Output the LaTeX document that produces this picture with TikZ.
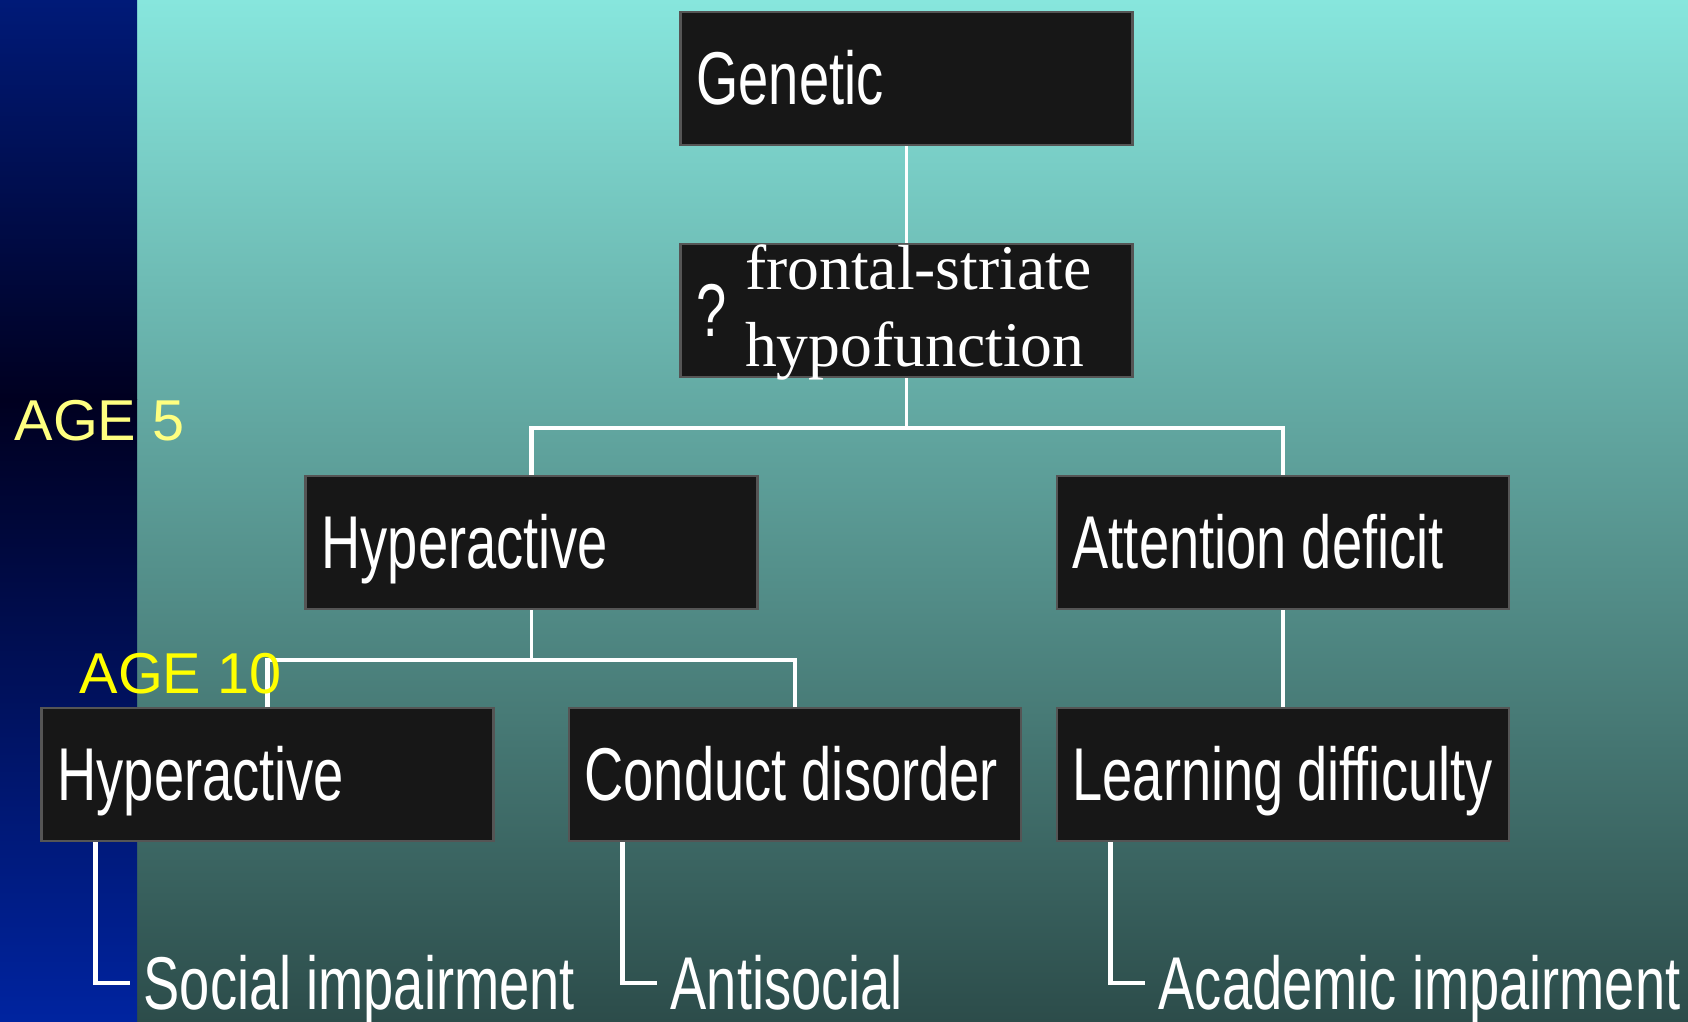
\documentclass[tikz,border=0pt]{standalone}
\usepackage{fontspec}
\usetikzlibrary{positioning,calc}
\usepackage{xcolor}

\newfontfamily\narrowsans[FakeStretch=0.725]{Liberation Sans}
\newfontfamily\agesans{Liberation Sans}
\newfontfamily\slideserif{Liberation Serif}

\definecolor{bgtop}{HTML}{87E6DD}
\definecolor{bgbottom}{HTML}{2C4C4A}
\definecolor{bandtop}{HTML}{001A78}
\definecolor{banddark}{HTML}{000020}
\definecolor{bandbottom}{HTML}{0024A0}
\definecolor{boxfill}{HTML}{171717}
\definecolor{boxedge}{HTML}{555555}
\definecolor{agepale}{HTML}{FFFF80}
\definecolor{agebright}{HTML}{FFFF00}

\begin{document}
\begin{tikzpicture}[x=0.1mm,y=-0.1mm,node distance=9.7mm,
		box/.style={draw=boxedge,line width=0.6pt,fill=boxfill,text=white,inner xsep=1.6mm,inner ysep=0pt,minimum height=13.3mm,text height=18.8pt,text depth=4pt,execute at begin node=\hbox to 42mm\bgroup,execute at end node=\hfil\egroup,font=\narrowsans\fontsize{21.3}{25}\selectfont},
		outcome/.style={anchor=base west,inner sep=0pt,text=white,text height=18.8pt,text depth=4pt,font=\narrowsans\fontsize{21.3}{25}\selectfont},
		agelabel/.style={anchor=base west,inner sep=0pt,font=\agesans\fontsize{16.4}{20}\selectfont},
		link/.style={draw=white,line width=1.2pt},
		thinlink/.style={draw=white,line width=0.7pt}]
				
				\useasboundingbox (0,0) rectangle (1688,1022);
				
				% background
				\shade[top color=bgtop,bottom color=bgbottom] (0,0) rectangle (1688,1022);
				\shade[top color=bandtop,bottom color=banddark] (0,0) rectangle (137,400);
				\shade[top color=banddark,bottom color=bandbottom] (0,400) rectangle (137,1022);
				
				% Genetic
				\node[box] (genetic) at (906.5,78.5) {Genetic};
				
				% frontal-striate hypofunction
				\node[box,below=of genetic] (frontal) {?};
				\node[anchor=west,inner sep=0pt,text=white,align=left,font=\slideserif\fontsize{18.1}{21.8}\selectfont] (frontlabel) at ([xshift=6.5mm,yshift=-0.2mm]frontal.west) {frontal-striate\\hypofunction};
				
				% age 5
				\node[box,below=of frontal,xshift=-37.5mm] (hypfive) {Hyperactive};
				\node[box,right=29.7mm of hypfive] (attention) {Attention deficit};
				
				% age 10
				\node[box,below=of hypfive,xshift=-26.4mm] (hypten) {Hyperactive};
				\node[box,right=7.3mm of hypten] (conduct) {Conduct disorder};
				\node[box,below=of attention] (learning) {Learning difficulty};
				
				% outcomes
				\node[outcome] (social) at (143,1009) {Social impairment};
				\node[outcome] (antisocial) at (670,1009) {Antisocial};
				\node[outcome] (academic) at (1158,1009) {Academic impairment};
				
				% connectors
				\draw[thinlink] (genetic) -- (frontal);
				\draw[thinlink] (frontal.south) -- ++(0,49.5) coordinate (forkfive);
				\draw[link] (hypfive.north) |- (forkfive) -| (attention.north);
				\draw[thinlink] (hypfive.south) -- ++(0,49.5) coordinate (forkten);
				\draw[link] (hypten.north) |- (forkten) -| (conduct.north);
				\draw[link] (attention) -- (learning);
				\draw[link] ([xshift=5.5mm]hypten.south west) |- ([xshift=-1.3mm]social.west);
				\draw[link] ([xshift=5.5mm]conduct.south west) |- ([xshift=-1.3mm]antisocial.west);
				\draw[link] ([xshift=5.5mm]learning.south west) |- ([xshift=-1.3mm]academic.west);
				
				% age labels
				\node[agelabel,text=agepale] (agefive) at (14,441) {AGE 5};
				\node[agelabel,text=agebright] (ageten) at (79,693) {AGE 10};
				
			\end{tikzpicture}
\end{document}
